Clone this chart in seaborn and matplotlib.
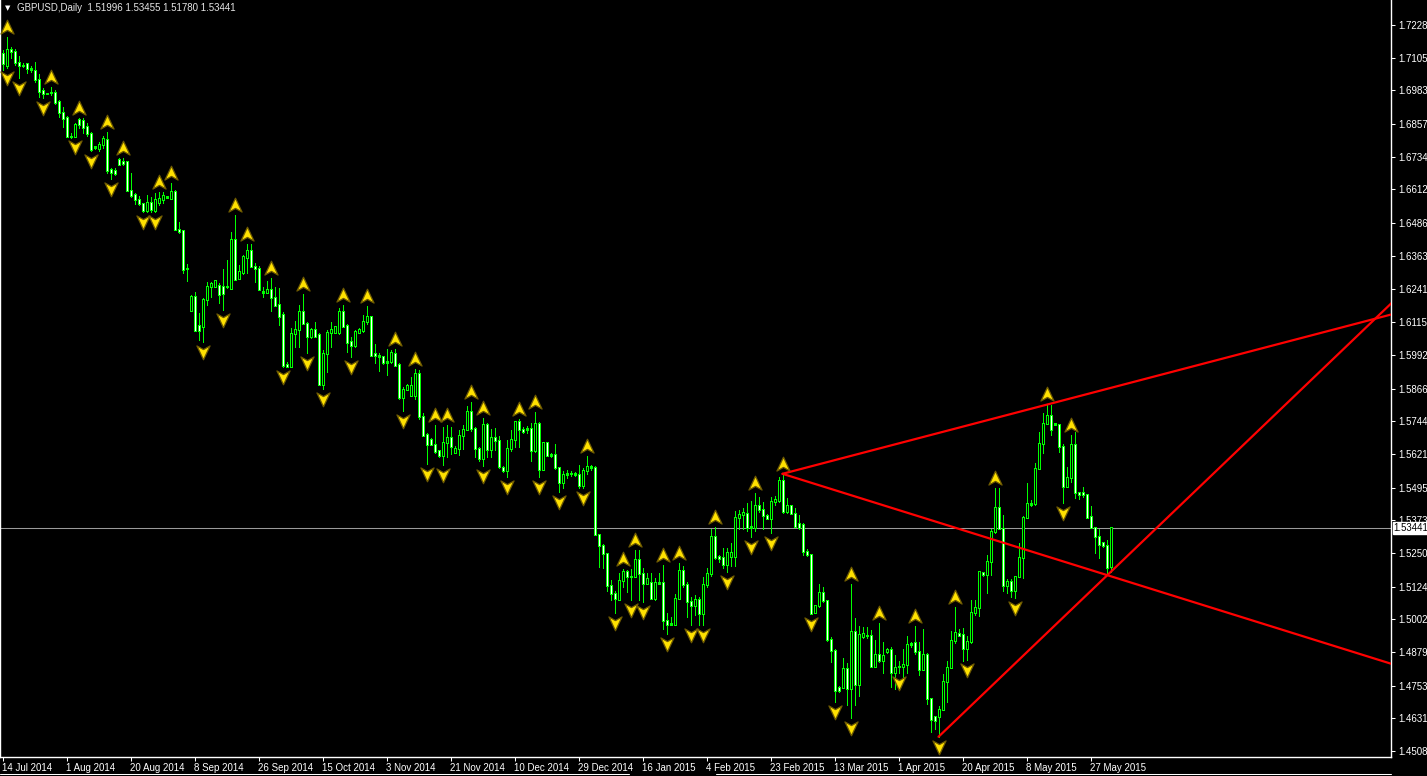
import numpy as np
import matplotlib
matplotlib.use("Agg")
import matplotlib.pyplot as plt
import seaborn as sns
from matplotlib.path import Path
from matplotlib.markers import MarkerStyle
from matplotlib.transforms import offset_copy
from matplotlib.lines import Line2D

# ---------------- data (GBPUSD daily) ----------------
symbol = "GBPUSD,Daily"
opens = [
    1.7122,1.7078,1.7137,1.7128,1.7087,1.7078,1.7082,1.7066,1.7057,1.7025,
    1.6981,1.6972,1.6975,1.6975,1.6941,1.6900,1.6882,1.6812,1.6810,1.6875,
    1.6872,1.6847,1.6822,1.6772,1.6766,1.6782,1.6800,1.6685,1.6682,1.6725,
    1.6716,1.6716,1.6610,1.6594,1.6573,1.6558,1.6535,1.6563,1.6535,1.6563,
    1.6573,1.6583,1.6579,1.6606,1.6463,1.6458,1.6317,1.6160,1.6213,1.6104,
    1.6100,1.6200,1.6248,1.6248,1.6253,1.6248,1.6248,1.6242,1.6425,1.6279,
    1.6300,1.6357,1.6385,1.6323,1.6317,1.6229,1.6225,1.6238,1.6208,1.6183,
    1.6142,1.5958,1.5948,1.6071,1.6088,1.6154,1.6110,1.6063,1.6086,1.6067,
    1.5883,1.5996,1.6076,1.6076,1.6076,1.6154,1.6104,1.6042,1.6029,1.6076,
    1.6083,1.6119,1.6135,1.5996,1.5992,1.5986,1.5967,1.5967,1.5998,1.5958,
    1.5833,1.5863,1.5842,1.5842,1.5921,1.5763,1.5696,1.5676,1.5658,1.5633,
    1.5617,1.5663,1.5683,1.5627,1.5640,1.5692,1.5714,1.5780,1.5717,1.5642,
    1.5605,1.5730,1.5639,1.5684,1.5671,1.5571,1.5561,1.5642,1.5676,1.5742,
    1.5714,1.5714,1.5717,1.5636,1.5736,1.5564,1.5664,1.5621,1.5621,1.5571,
    1.5514,1.5546,1.5549,1.5549,1.5546,1.5505,1.5561,1.5574,1.5571,1.5318,
    1.5280,1.5249,1.5130,1.5099,1.5077,1.5149,1.5180,1.5164,1.5164,1.5227,
    1.5174,1.5137,1.5139,1.5080,1.5139,1.5139,1.4997,1.4984,1.4984,1.5081,
    1.5184,1.5134,1.5068,1.5053,1.5077,1.5022,1.5134,1.5172,1.5314,1.5237,
    1.5234,1.5206,1.5237,1.5237,1.5384,1.5393,1.5397,1.5347,1.5347,1.5430,
    1.5414,1.5389,1.5379,1.5443,1.5447,1.5522,1.5405,1.5427,1.5399,1.5362,
    1.5359,1.5256,1.5243,1.5027,1.5052,1.5102,1.5072,1.4927,1.4885,1.4747,
    1.4747,1.4818,1.4743,1.4956,1.4756,1.4937,1.4940,1.4940,1.4827,1.4872,
    1.4847,1.4881,1.4890,1.4802,1.4825,1.4825,1.4831,1.4909,1.4914,1.4881,
    1.4814,1.4872,1.4706,1.4637,1.4637,1.4665,1.4768,1.4822,1.4922,1.4949,
    1.4947,1.4893,1.4918,1.5027,1.5047,1.5177,1.5168,1.5218,1.5330,1.5421,
    1.5343,1.5130,1.5143,1.5111,1.5162,1.5234,1.5384,1.5434,1.5434,1.5568,
    1.5661,1.5736,1.5767,1.5734,1.5730,1.5651,1.5501,1.5534,1.5655,1.5476,
    1.5476,1.5468,1.5387,1.5347,1.5314,1.5289,1.5280,1.51996]
highs = [
    1.7135,1.7182,1.7147,1.7137,1.7112,1.7085,1.7087,1.7075,1.7091,1.7045,
    1.6991,1.6975,1.6995,1.6985,1.6947,1.6920,1.6887,1.6822,1.6860,1.6879,
    1.6879,1.6860,1.6826,1.6775,1.6791,1.6812,1.6829,1.6691,1.6691,1.6729,
    1.6729,1.6720,1.6672,1.6598,1.6588,1.6563,1.6591,1.6585,1.6598,1.6604,
    1.6604,1.6588,1.6635,1.6610,1.6491,1.6460,1.6333,1.6217,1.6229,1.6148,
    1.6204,1.6267,1.6267,1.6273,1.6260,1.6313,1.6348,1.6454,1.6516,1.6329,
    1.6367,1.6408,1.6408,1.6335,1.6325,1.6248,1.6270,1.6279,1.6245,1.6242,
    1.6154,1.5967,1.6092,1.6120,1.6179,1.6220,1.6117,1.6092,1.6117,1.6073,
    1.6011,1.6086,1.6117,1.6100,1.6167,1.6179,1.6108,1.6061,1.6086,1.6092,
    1.6142,1.6175,1.6138,1.6033,1.6001,1.5988,1.6013,1.6011,1.6013,1.5961,
    1.5873,1.5883,1.5911,1.5938,1.5936,1.5773,1.5698,1.5680,1.5729,1.5636,
    1.5721,1.5729,1.5721,1.5651,1.5711,1.5730,1.5801,1.5817,1.5724,1.5649,
    1.5755,1.5736,1.5714,1.5717,1.5689,1.5576,1.5674,1.5711,1.5746,1.5751,
    1.5724,1.5726,1.5739,1.5780,1.5742,1.5667,1.5667,1.5624,1.5659,1.5574,
    1.5559,1.5561,1.5559,1.5555,1.5580,1.5568,1.5614,1.5580,1.5576,1.5321,
    1.5284,1.5252,1.5149,1.5109,1.5177,1.5189,1.5187,1.5189,1.5262,1.5262,
    1.5193,1.5174,1.5174,1.5155,1.5177,1.5205,1.5027,1.5012,1.5097,1.5214,
    1.5202,1.5143,1.5087,1.5093,1.5087,1.5162,1.5193,1.5339,1.5347,1.5243,
    1.5268,1.5268,1.5289,1.5409,1.5412,1.5418,1.5437,1.5447,1.5474,1.5462,
    1.5443,1.5397,1.5462,1.5464,1.5534,1.5547,1.5455,1.5430,1.5418,1.5393,
    1.5364,1.5264,1.5247,1.5056,1.5134,1.5124,1.5074,1.4937,1.4890,1.4752,
    1.4856,1.4840,1.5134,1.5006,1.4977,1.4974,1.4974,1.4962,1.4925,1.4989,
    1.4918,1.4893,1.4897,1.4868,1.4847,1.4890,1.4939,1.4918,1.4977,1.4918,
    1.4964,1.4877,1.4709,1.4640,1.4677,1.4797,1.4847,1.4959,1.5047,1.4964,
    1.4969,1.4939,1.5074,1.5074,1.5184,1.5180,1.5243,1.5339,1.5493,1.5493,
    1.5393,1.5152,1.5152,1.5164,1.5287,1.5389,1.5514,1.5449,1.5586,1.5705,
    1.5774,1.5809,1.5805,1.5739,1.5734,1.5659,1.5571,1.5692,1.5705,1.5476,
    1.5499,1.5471,1.5426,1.5349,1.5339,1.5293,1.5299,1.53455]
lows = [
    1.7060,1.7066,1.7103,1.7078,1.7028,1.7072,1.7047,1.7053,1.7016,1.6957,
    1.6953,1.6970,1.6966,1.6932,1.6882,1.6847,1.6807,1.6804,1.6807,1.6841,
    1.6822,1.6812,1.6757,1.6762,1.6757,1.6766,1.6675,1.6650,1.6666,1.6704,
    1.6704,1.6607,1.6585,1.6558,1.6554,1.6529,1.6529,1.6529,1.6529,1.6554,
    1.6560,1.6579,1.6579,1.6460,1.6448,1.6298,1.6270,1.6158,1.6083,1.6048,
    1.6042,1.6179,1.6210,1.6245,1.6185,1.6160,1.6242,1.6238,1.6273,1.6275,
    1.6295,1.6298,1.6320,1.6267,1.6235,1.6208,1.6223,1.6158,1.6175,1.6104,
    1.5948,1.5946,1.5946,1.6023,1.6021,1.6108,1.5998,1.6054,1.6058,1.5879,
    1.5863,1.5929,1.6021,1.6073,1.6071,1.6098,1.6004,1.5986,1.6021,1.6076,
    1.6079,1.6110,1.5988,1.5961,1.5933,1.5958,1.5917,1.5963,1.5951,1.5829,
    1.5783,1.5861,1.5838,1.5829,1.5754,1.5688,1.5584,1.5655,1.5626,1.5611,
    1.5580,1.5611,1.5623,1.5624,1.5617,1.5639,1.5711,1.5709,1.5609,1.5596,
    1.5576,1.5609,1.5609,1.5636,1.5568,1.5555,1.5534,1.5634,1.5646,1.5646,
    1.5701,1.5701,1.5596,1.5630,1.5536,1.5561,1.5614,1.5609,1.5564,1.5480,
    1.5493,1.5530,1.5539,1.5539,1.5493,1.5493,1.5546,1.5561,1.5318,1.5199,
    1.5193,1.5109,1.5074,1.5024,1.5074,1.5124,1.5105,1.5074,1.5159,1.5074,
    1.5068,1.5134,1.5077,1.5074,1.5134,1.4964,1.4947,1.4981,1.4981,1.5077,
    1.5124,1.5012,1.4981,1.5018,1.4981,1.4981,1.5124,1.5164,1.5227,1.5218,
    1.5193,1.5181,1.5202,1.5202,1.5339,1.5339,1.5334,1.5312,1.5334,1.5405,
    1.5339,1.5377,1.5327,1.5430,1.5443,1.5402,1.5402,1.5397,1.5347,1.5339,
    1.5243,1.5239,1.5022,1.5024,1.5047,1.5068,1.4922,1.4843,1.4694,1.4731,
    1.4743,1.4681,1.4631,1.4681,1.4715,1.4931,1.4931,1.4822,1.4825,1.4843,
    1.4800,1.4875,1.4750,1.4740,1.4800,1.4770,1.4802,1.4899,1.4872,1.4793,
    1.4812,1.4684,1.4581,1.4593,1.4562,1.4662,1.4693,1.4818,1.4912,1.4939,
    1.4847,1.4849,1.4912,1.5018,1.5015,1.5164,1.5099,1.5168,1.5324,1.5339,
    1.5109,1.5099,1.5084,1.5080,1.5159,1.5155,1.5384,1.5426,1.5430,1.5564,
    1.5626,1.5734,1.5692,1.5730,1.5630,1.5439,1.5499,1.5518,1.5455,1.5452,
    1.5462,1.5380,1.5343,1.5252,1.5230,1.5274,1.5174,1.51780]
closes = [
    1.7085,1.7135,1.7128,1.7087,1.7078,1.7076,1.7066,1.7060,1.7025,1.6978,
    1.6970,1.6972,1.6974,1.6937,1.6900,1.6879,1.6810,1.6810,1.6857,1.6857,
    1.6845,1.6822,1.6762,1.6768,1.6782,1.6804,1.6682,1.6676,1.6672,1.6707,
    1.6710,1.6610,1.6591,1.6573,1.6558,1.6535,1.6563,1.6538,1.6573,1.6579,
    1.6591,1.6584,1.6604,1.6463,1.6456,1.6313,1.6315,1.6213,1.6085,1.6085,
    1.6200,1.6248,1.6260,1.6270,1.6220,1.6222,1.6250,1.6425,1.6275,1.6304,
    1.6360,1.6385,1.6323,1.6315,1.6238,1.6225,1.6238,1.6208,1.6179,1.6138,
    1.5954,1.5950,1.6073,1.6088,1.6154,1.6110,1.6063,1.6086,1.6063,1.5883,
    1.5996,1.6076,1.6086,1.6098,1.6154,1.6100,1.6038,1.6029,1.6079,1.6086,
    1.6119,1.6135,1.5992,1.5991,1.5988,1.5963,1.5963,1.6001,1.5954,1.5833,
    1.5863,1.5876,1.5876,1.5921,1.5761,1.5692,1.5655,1.5658,1.5630,1.5617,
    1.5663,1.5683,1.5648,1.5640,1.5692,1.5714,1.5780,1.5717,1.5642,1.5605,
    1.5730,1.5639,1.5684,1.5671,1.5576,1.5561,1.5642,1.5676,1.5742,1.5714,
    1.5705,1.5715,1.5636,1.5736,1.5564,1.5664,1.5617,1.5614,1.5571,1.5514,
    1.5546,1.5549,1.5548,1.5543,1.5505,1.5561,1.5574,1.5572,1.5321,1.5280,
    1.5249,1.5130,1.5099,1.5080,1.5149,1.5180,1.5162,1.5163,1.5227,1.5174,
    1.5137,1.5155,1.5080,1.5139,1.5138,1.4997,1.4984,1.4985,1.5080,1.5184,
    1.5131,1.5068,1.5053,1.5077,1.5022,1.5134,1.5172,1.5312,1.5234,1.5231,
    1.5206,1.5252,1.5252,1.5384,1.5393,1.5402,1.5347,1.5348,1.5430,1.5414,
    1.5389,1.5379,1.5443,1.5452,1.5522,1.5405,1.5427,1.5399,1.5349,1.5347,
    1.5256,1.5243,1.5024,1.5052,1.5102,1.5072,1.4927,1.4885,1.4735,1.4735,
    1.4818,1.4743,1.4956,1.4756,1.4947,1.4950,1.4941,1.4827,1.4872,1.4847,
    1.4868,1.4890,1.4802,1.4822,1.4824,1.4831,1.4909,1.4912,1.4881,1.4814,
    1.4872,1.4706,1.4625,1.4622,1.4665,1.4768,1.4822,1.4924,1.4952,1.4943,
    1.4893,1.4918,1.5027,1.5047,1.5180,1.5170,1.5218,1.5330,1.5421,1.5343,
    1.5130,1.5143,1.5111,1.5162,1.5234,1.5384,1.5434,1.5433,1.5568,1.5661,
    1.5736,1.5767,1.5714,1.5733,1.5649,1.5501,1.5534,1.5655,1.5476,1.5471,
    1.5468,1.5384,1.5347,1.5312,1.5284,1.5280,1.5197,1.53441]

# fractal markers (bar indices)
fractal_up = [1, 12, 19, 26, 30, 39, 42, 58, 61, 67, 75, 85, 91, 98, 103, 108, 111,
              117, 120, 129, 133, 146, 155, 158, 165, 169, 178, 188, 195, 212, 219,
              228, 238, 248, 261, 267]
fractal_down = [1, 4, 10, 18, 22, 27, 35, 38, 50, 55, 70, 76, 80, 87, 100, 106, 110,
                120, 126, 134, 139, 145, 153, 157, 160, 166, 172, 175, 181, 187, 192,
                202, 208, 212, 224, 234, 241, 253, 265]

# trend lines: (bar0, price0, bar1, price1)
trend_x0 = [195, 195, 234]
trend_y0 = [1.5547, 1.5547, 1.4562]
trend_x1 = [347.5, 347.5, 347.5]
trend_y1 = [1.6145, 1.4834, 1.6190]

# axis labels
date_tick_bars = [0, 16, 32, 48, 64, 80, 96, 112, 128, 144, 160, 176, 192, 208, 224, 240, 256, 272]
date_tick_labels = ["14 Jul 2014", "1 Aug 2014", "20 Aug 2014", "8 Sep 2014", "26 Sep 2014",
                    "15 Oct 2014", "3 Nov 2014", "21 Nov 2014", "10 Dec 2014", "29 Dec 2014",
                    "16 Jan 2015", "4 Feb 2015", "23 Feb 2015", "13 Mar 2015", "1 Apr 2015",
                    "20 Apr 2015", "8 May 2015", "27 May 2015"]
price_ticks = [1.72280, 1.71055, 1.69830, 1.68570, 1.67345, 1.66120, 1.64860, 1.63635,
               1.62410, 1.61150, 1.59925, 1.58665, 1.57440, 1.56215, 1.54955, 1.53730,
               1.52505, 1.51245, 1.50020, 1.48795, 1.47535, 1.46310, 1.45085]

# ---------------- drawing ----------------
sns.set_theme(style="dark")
plt.rcParams['font.family'] = ['Liberation Sans', 'DejaVu Sans']

W, H = 1427, 776
AX_W, AX_H = 1391, 757
DPI = 100
PT = 72.0 / DPI                      # one pixel in points
fig = plt.figure(figsize=(W / DPI, H / DPI), dpi=DPI, facecolor='black')
ax = fig.add_axes([0, 19 / H, AX_W / W, AX_H / H])
ax.set_facecolor('black')
ax.grid(False)

# limits: 4 px per bar, bar centres on pixel centres
XMIN = -0.625
XMAX = XMIN + AX_W / 4.0
YMIN, YMAX = 1.44863, 1.73217
ax.set_xlim(XMIN, XMAX)
ax.set_ylim(YMIN, YMAX)
px = (YMAX - YMIN) / AX_H          # one pixel in price units

o = np.array(opens); h = np.array(highs); l = np.array(lows); c = np.array(closes)
x = np.arange(len(c))
GREEN = '#00FF00'

# wicks
ax.vlines(x, l, h, colors=GREEN, linewidth=PT, antialiased=False, capstyle='butt', zorder=2)
# bodies: 3 px green outline + 1 px inner fill
lo_b = np.minimum(o, c)
hi_b = np.maximum(o, c)
ax.vlines(x, lo_b - px / 2, hi_b + px / 2, colors=GREEN, linewidth=3 * PT,
          antialiased=False, capstyle='butt', zorder=3)
inner = (hi_b - lo_b) > 1.2 * px
bull = c >= o
ax.vlines(x[inner], lo_b[inner] + px / 2, hi_b[inner] - px / 2,
          colors=np.where(bull[inner], 'black', 'white'), linewidth=PT,
          antialiased=False, capstyle='butt', zorder=4)

# current price line
ax.axhline(c[-1], color='#9A9A9A', linewidth=0.75, zorder=1)

# trend lines
for x0, y0, x1, y1 in zip(trend_x0, trend_y0, trend_x1, trend_y1):
    sns.lineplot(x=[x0, x1], y=[y0, y1], color='#FF0000', linewidth=1.6, ax=ax, zorder=5)

# fractal arrows
up_path = Path([(0, 1), (0.9, -0.9), (0, -0.4), (-0.9, -0.9), (0, 1)],
               [Path.MOVETO, Path.LINETO, Path.LINETO, Path.LINETO, Path.CLOSEPOLY])
down_path = Path([(0, -1), (0.9, 0.9), (0, 0.4), (-0.9, 0.9), (0, -1)],
                 [Path.MOVETO, Path.LINETO, Path.LINETO, Path.LINETO, Path.CLOSEPOLY])
tr_up = offset_copy(ax.transData, fig=fig, x=0, y=10, units='dots')
tr_dn = offset_copy(ax.transData, fig=fig, x=0, y=-10, units='dots')
ax.plot(fractal_up, h[fractal_up], ls='none', marker=MarkerStyle(up_path), ms=10.5,
        mfc='#FFE100', mec='#6E5A00', mew=0.9, transform=tr_up, zorder=6)
ax.plot(fractal_down, l[fractal_down], ls='none', marker=MarkerStyle(down_path), ms=10.5,
        mfc='#FFE100', mec='#6E5A00', mew=0.9, transform=tr_dn, zorder=6)

# axes styling
for s in ['left', 'right', 'bottom']:
    ax.spines[s].set_visible(True)
    ax.spines[s].set_color('white')
    ax.spines[s].set_linewidth(1.0)
ax.spines['top'].set_visible(False)

ax.set_xticks(date_tick_bars)
ax.set_xticklabels(date_tick_labels, ha='left', fontsize=7, color='white')
ax.tick_params(axis='x', direction='out', length=3, width=0.75, colors='white', pad=1,
               bottom=True)
ax.yaxis.tick_right()
ax.set_yticks(price_ticks)
ax.set_yticklabels([f"{p:.5f}" for p in price_ticks], fontsize=7, color='white')
ax.tick_params(axis='y', direction='out', length=3, width=0.75, colors='white', pad=2,
               right=True, left=False)
ax.set_xlabel(''); ax.set_ylabel('')

# current price tag
ax.annotate(f"{c[-1]:.5f}", xy=(1, c[-1]), xycoords=('axes fraction', 'data'),
            xytext=(2, 0), textcoords='offset points', fontsize=7, color='black',
            va='center', ha='left', annotation_clip=False, zorder=7,
            bbox=dict(boxstyle='square,pad=0.12', fc='white', ec='white'))

# header
fig.text(5 / W, 1 - 8 / H, '\u25BC', fontsize=5, color='white', va='center', ha='left',
         family=['DejaVu Sans'])
fig.text(17 / W, 1 - 8 / H,
         f"{symbol}  {o[-1]:.5f} {h[-1]:.5f} {l[-1]:.5f} {c[-1]:.5f}",
         fontsize=7, color='#E6E6E6', va='center', ha='left')

# window bottom border
fig.add_artist(Line2D([0, 629 / W], [2.5 / H, 2.5 / H], color='white', lw=0.75))
fig.add_artist(Line2D([716 / W, 1391 / W], [2.5 / H, 2.5 / H], color='white', lw=0.75))

fig.savefig('out.png', dpi=DPI, facecolor='black')
